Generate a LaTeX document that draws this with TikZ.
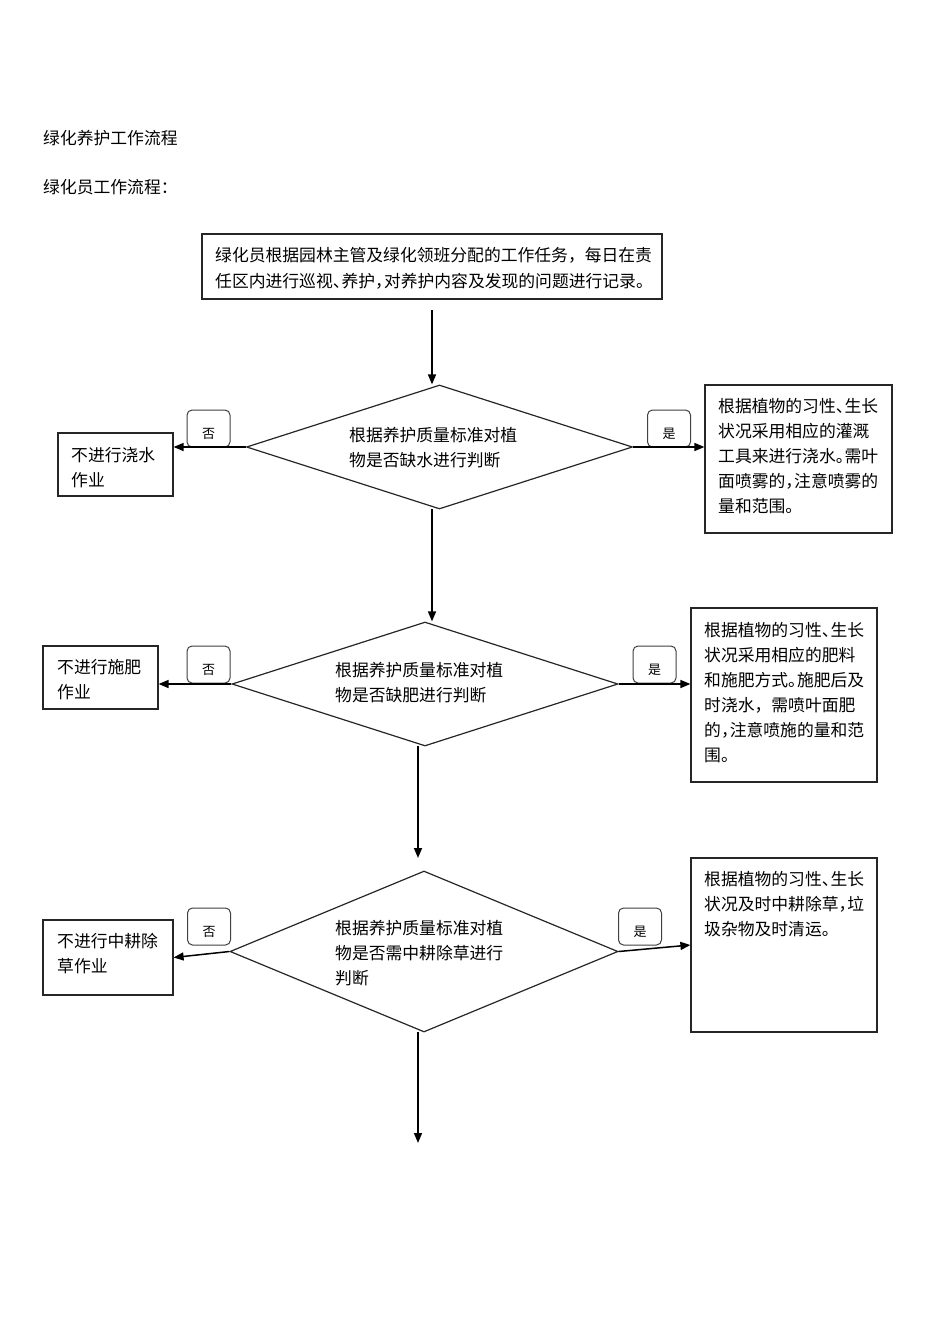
\documentclass[tikz,border=0pt]{standalone}
\usepackage{fontspec}
\setmainfont{Noto Sans CJK SC}
\usetikzlibrary{shapes.geometric,arrows.meta}
\newcommand\cmp{\kern-8pt}
\begin{document}
\begin{tikzpicture}[x=1pt,y=-1pt,
 txt/.style={anchor=base west, inner sep=0pt, text width=480pt, align=left, font=\fontsize{16.8}{25}\selectfont},
 box/.style={draw=black!85, line width=1.2pt, inner sep=0pt},
 dia/.style={diamond, draw=black!85, line width=1.2pt, inner sep=0pt},
 lab/.style={draw=black!75, rounded corners=5pt, line width=1pt, minimum width=43pt, minimum height=37pt, inner sep=0pt},
 labtxt/.style={inner sep=0pt, font=\fontsize{13}{13}\selectfont},
 arr/.style={draw=black, line width=1.5pt, -{Triangle[length=10pt,width=8pt]}},
]
\fill[white] (0,0) rectangle (950,1344);
\useasboundingbox (0,0) rectangle (950,1344);

% titles
\node[txt] (title) at (43,144.4) {绿化养护工作流程};
\node[txt] (subtitle) at (43,193.4) {绿化员工作流程：};

% top box
\node[box, minimum width=460pt, minimum height=65pt] (top) at (432,266.5) {};
\node[txt, font=\fontsize{16.8}{26}\selectfont] (toptxt) at (215,261.4) {绿化员根据园林主管及绿化领班分配的工作任务，每日在责\\任区内进行巡视、\cmp 养护，\cmp 对养护内容及发现的问题进行记录。};

% diamonds
\node[dia, minimum width=386pt, minimum height=124pt] (d1) at (439.5,447) {};
\node[txt] (d1t) at (349,441.4) {根据养护质量标准对植\\物是否缺水进行判断};
\node[dia, minimum width=386pt, minimum height=124pt] (d2) at (425,684) {};
\node[txt] (d2t) at (335,676.4) {根据养护质量标准对植\\物是否缺肥进行判断};
\node[dia, minimum width=388pt, minimum height=161pt] (d3) at (424,951.5) {};
\node[txt] (d3t) at (335,934.4) {根据养护质量标准对植\\物是否需中耕除草进行\\判断};

% left boxes
\node[box, minimum width=115pt, minimum height=63pt] (L1) at (115.5,464.5) {};
\node[txt] (L1t) at (71,461.4) {不进行浇水\\作业};
\node[box, minimum width=115pt, minimum height=63pt] (L2) at (100.5,677.5) {};
\node[txt] (L2t) at (57,673.4) {不进行施肥\\作业};
\node[box, minimum width=130pt, minimum height=75pt] (L3) at (108,957.5) {};
\node[txt] (L3t) at (57,947.4) {不进行中耕除\\草作业};

% right boxes
\node[box, minimum width=187pt, minimum height=148pt] (R1) at (798.5,459) {};
\node[txt] (R1t) at (718,412.4) {根据植物的习性、\cmp 生长\\状况采用相应的灌溉\\工具来进行浇水。\cmp 需叶\\面喷雾的，\cmp 注意喷雾的\\量和范围。};
\node[box, minimum width=186pt, minimum height=174pt] (R2) at (784,695) {};
\node[txt] (R2t) at (704,636.4) {根据植物的习性、\cmp 生长\\状况采用相应的肥料\\和施肥方式。\cmp 施肥后及\\时浇水，需喷叶面肥\\的，\cmp 注意喷施的量和范\\围。};
\node[box, minimum width=186pt, minimum height=174pt] (R3) at (784,945) {};
\node[txt] (R3t) at (704,885.4) {根据植物的习性、\cmp 生长\\状况及时中耕除草，\cmp 垃\\圾杂物及时清运。};

% labels
\node[lab] (n1) at (208.5,428.5) {};
\node[labtxt] (n1t) at (208.5,433.5) {否};
\node[lab] (y1) at (669,428.5) {};
\node[labtxt] (y1t) at (669,433.5) {是};
\node[lab] (n2) at (208.5,664.5) {};
\node[labtxt] (n2t) at (208.5,669.5) {否};
\node[lab] (y2) at (654.5,664.5) {};
\node[labtxt] (y2t) at (654.5,669.5) {是};
\node[lab] (n3) at (209,926.5) {};
\node[labtxt] (n3t) at (209,931.5) {否};
\node[lab] (y3) at (640,926.5) {};
\node[labtxt] (y3t) at (640,931.5) {是};

% vertical arrows
\coordinate (a0) at (432,310);
\draw[arr] (a0) -- (a0 |- d1.north);
\coordinate (a1) at (432,509);
\draw[arr] (a1) -- (a1 |- d2.north);
\coordinate (a2) at (418,746);
\coordinate (a2e) at (418,858);
\draw[arr] (a2) -- (a2e);
\coordinate (a3) at (418,1032);
\coordinate (a3e) at (418,1143);
\draw[arr] (a3) -- (a3e);

% side arrows
\draw[arr] (d1.west) -- (d1.west -| L1.east);
\draw[arr] (d1.east) -- (d1.east -| R1.west);
\draw[arr] (d2.west) -- (d2.west -| L2.east);
\draw[arr] (d2.east) -- (d2.east -| R2.west);
\draw[arr] (d3.west) -- (L3.east);
\draw[arr] (d3.east) -- (R3.west);
\end{tikzpicture}
\end{document}
